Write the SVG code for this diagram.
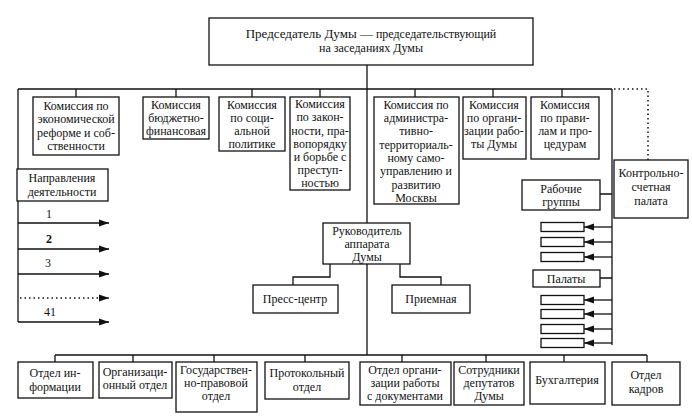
<svg xmlns="http://www.w3.org/2000/svg" width="692" height="417" viewBox="0 0 692 417">
<style>
.b{fill:#fff;stroke:#111;stroke-width:1.3}
.l{fill:none;stroke:#111;stroke-width:1.3}
.d{fill:none;stroke:#111;stroke-width:1.5;stroke-dasharray:1.5 3}
text{font-family:"Liberation Serif","Times New Roman",serif;font-size:12px;fill:#111;text-anchor:middle}
</style>
<defs>
<marker id="ar" markerUnits="userSpaceOnUse" markerWidth="11" markerHeight="8" refX="10" refY="4" orient="auto">
<path d="M0,0.5 L10,4 L0,7.5 Z" fill="#111"/>
</marker>
</defs>
<g id="connectors">
<path class="l" d="M367,65 V355"/>
<path class="l" d="M18,89 H612 M18,89 V322 M612,89 V345"/>
<path class="l" d="M76,89 V97 M176,89 V97 M252,89 V97 M320,89 V97 M415,89 V97 M493,89 V97 M562,89 V97"/>
<path class="d" d="M614,89 H648 V160"/>
<path class="l" d="M18,223 H109" marker-end="url(#ar)"/>
<path class="l" d="M18,249 H109" marker-end="url(#ar)"/>
<path class="l" d="M18,274 H109" marker-end="url(#ar)"/>
<path class="d" d="M20,298 H100"/>
<path class="l" d="M100,298 H109" marker-end="url(#ar)"/>
<path class="l" d="M18,322 H109" marker-end="url(#ar)"/>
<path class="l" d="M330,264 V277 H293 V285 M400,264 V277 H441 V285"/>
<path class="l" d="M600,194 H612 M600,278 H612"/>
<path class="l" d="M612,227 H584" marker-end="url(#ar)"/>
<path class="l" d="M612,242 H584" marker-end="url(#ar)"/>
<path class="l" d="M612,257 H584" marker-end="url(#ar)"/>
<path class="l" d="M612,300 H584" marker-end="url(#ar)"/>
<path class="l" d="M612,314 H584" marker-end="url(#ar)"/>
<path class="l" d="M612,329 H584" marker-end="url(#ar)"/>
<path class="l" d="M612,343 H584" marker-end="url(#ar)"/>
<path class="l" d="M55,355 H647 M55,355 V362 M133,355 V362 M214,355 V362 M305,355 V362 M402,355 V362 M486,355 V362 M564,355 V362 M647,355 V362"/>
</g>
<g id="chair"><rect class="b" x="209" y="18" width="324" height="47"/>
<text x="371" y="38"><tspan font-size="13">Председатель Думы —</tspan> председательствующий</text>
<text x="371" y="52">на заседаниях Думы</text></g>
<g id="c1"><rect class="b" x="33" y="97" width="86" height="58"/>
<text x="76" y="110">Комиссия по</text><text x="76" y="123">экономической</text><text x="76" y="137">реформе и соб-</text><text x="76" y="150">ственности</text></g>
<g id="c2"><rect class="b" x="143" y="97" width="66" height="42"/>
<text x="176" y="109">Комиссия</text><text x="176" y="122">бюджетно-</text><text x="176" y="135">финансовая</text></g>
<g id="c3"><rect class="b" x="219" y="97" width="66" height="54"/>
<text x="252" y="109">Комиссия</text><text x="252" y="122">по соци-</text><text x="252" y="135">альной</text><text x="252" y="148">политике</text></g>
<g id="c4"><rect class="b" x="290" y="97" width="60" height="93"/>
<text x="320" y="108">Комиссия</text><text x="320" y="121">по закон-</text><text x="320" y="135">ности, пра-</text><text x="320" y="148">вопорядку</text><text x="320" y="161">и борьбе с</text><text x="320" y="174">преступ-</text><text x="320" y="187">ностью</text></g>
<g id="c5"><rect class="b" x="374" y="97" width="85" height="107"/>
<text x="416" y="109">Комиссия по</text><text x="416" y="122">администра-</text><text x="416" y="135">тивно-</text><text x="416" y="149">территориаль-</text><text x="416" y="162">ному само-</text><text x="416" y="175">управлению и</text><text x="416" y="189">развитию</text><text x="416" y="202">Москвы</text></g>
<g id="c6"><rect class="b" x="463" y="97" width="63" height="62"/>
<text x="494" y="109">Комиссия</text><text x="494" y="122">по органи-</text><text x="494" y="135">зации рабо-</text><text x="494" y="148">ты Думы</text></g>
<g id="c7"><rect class="b" x="531" y="97" width="68" height="62"/>
<text x="565" y="109">Комиссия</text><text x="565" y="122">по прави-</text><text x="565" y="135">лам и про-</text><text x="565" y="148">цедурам</text></g>
<g id="dirs"><rect class="b" x="17" y="169" width="91" height="32"/>
<text x="62" y="182">Направления</text><text x="62" y="196">деятельности</text></g>
<g id="dirlabels">
<text x="49" y="218">1</text><text x="49" y="243" font-weight="bold">2</text><text x="48" y="267">3</text><text x="50" y="316">41</text></g>
<g id="head"><rect class="b" x="323" y="223" width="87" height="41"/>
<text x="367" y="235">Руководитель</text><text x="367" y="248">аппарата</text><text x="367" y="261">Думы</text></g>
<g id="press"><rect class="b" x="253" y="285" width="85" height="28"/><text x="295" y="303">Пресс-центр</text></g>
<g id="reception"><rect class="b" x="392" y="285" width="78" height="28"/><text x="431" y="303">Приемная</text></g>
<g id="control"><rect class="b" x="614" y="160" width="74" height="58"/>
<text x="651" y="177">Контрольно-</text><text x="651" y="191">счетная</text><text x="651" y="205">палата</text></g>
<g id="groups"><rect class="b" x="522" y="180" width="78" height="30"/>
<text x="561" y="193">Рабочие</text><text x="561" y="206">группы</text></g>
<g id="g1"><rect class="b" x="541" y="222.5" width="43" height="9"/></g>
<g id="g2"><rect class="b" x="541" y="237.5" width="43" height="9"/></g>
<g id="g3"><rect class="b" x="541" y="252.5" width="43" height="9"/></g>
<g id="chambers"><rect class="b" x="533" y="270" width="67" height="17"/><text x="566" y="283">Палаты</text></g>
<g id="p1"><rect class="b" x="541" y="295.5" width="43" height="9"/></g>
<g id="p2"><rect class="b" x="541" y="309.5" width="43" height="9"/></g>
<g id="p3"><rect class="b" x="541" y="324.5" width="43" height="9"/></g>
<g id="p4"><rect class="b" x="541" y="338.5" width="43" height="9"/></g>
<g id="d1"><rect class="b" x="18" y="362" width="75" height="36"/><text x="55" y="377">Отдел ин-</text><text x="55" y="391">формации</text></g>
<g id="d2"><rect class="b" x="99" y="362" width="73" height="36"/><text x="135" y="376">Организаци-</text><text x="135" y="389">онный отдел</text></g>
<g id="d3"><rect class="b" x="176" y="362" width="81" height="50"/><text x="216" y="374">Государствен-</text><text x="216" y="387">но-правовой</text><text x="216" y="400">отдел</text></g>
<g id="d4"><rect class="b" x="265" y="362" width="84" height="37"/><text x="307" y="377">Протокольный</text><text x="307" y="391">отдел</text></g>
<g id="d5"><rect class="b" x="360" y="362" width="91" height="43"/><text x="405" y="374">Отдел органи-</text><text x="405" y="387">зации работы</text><text x="405" y="400">с документами</text></g>
<g id="d6"><rect class="b" x="454" y="362" width="70" height="43"/><text x="489" y="374">Сотрудники</text><text x="489" y="387">депутатов</text><text x="489" y="400">Думы</text></g>
<g id="d7"><rect class="b" x="530" y="362" width="75" height="42"/><text x="567" y="384">Бухгалтерия</text></g>
<g id="d8"><rect class="b" x="612" y="362" width="68" height="43"/><text x="646" y="379">Отдел</text><text x="646" y="393">кадров</text></g>
</svg>
